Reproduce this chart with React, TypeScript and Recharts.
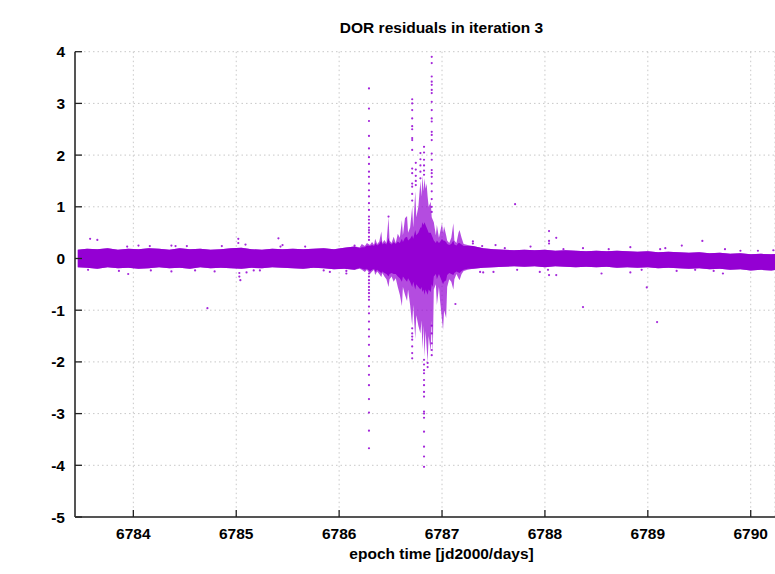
import React from 'react';
import { ComposedChart, Area, Scatter, XAxis, YAxis, CartesianGrid } from 'recharts';

const PURPLE = '#9400d3';
const FONT = '"Liberation Sans", Arial, Helvetica, sans-serif';

const title = 'DOR residuals in iteration 3';
const xTitle = 'epoch time [jd2000/days]';
const xTicks = [6784, 6785, 6786, 6787, 6788, 6789, 6790];
const yTicks = [-5, -4, -3, -2, -1, 0, 1, 2, 3, 4];

// quiet part before the event: day, upper and lower edge of the dense band
const beforeDays = [6783.46, 6783.55, 6783.65, 6783.75, 6783.85, 6783.95, 6784.05, 6784.15, 6784.25, 6784.35, 6784.45, 6784.55, 6784.65, 6784.75, 6784.85, 6784.95, 6785.05, 6785.15, 6785.25, 6785.35, 6785.45, 6785.55, 6785.65, 6785.75, 6785.85, 6785.95, 6786.05, 6786.15];
const beforeHi = [0.17, 0.19, 0.18, 0.2, 0.17, 0.19, 0.18, 0.2, 0.19, 0.17, 0.2, 0.18, 0.19, 0.17, 0.18, 0.2, 0.21, 0.18, 0.17, 0.19, 0.18, 0.19, 0.18, 0.19, 0.2, 0.18, 0.21, 0.23];
const beforeLo = [-0.17, -0.18, -0.2, -0.17, -0.19, -0.18, -0.2, -0.19, -0.17, -0.19, -0.18, -0.2, -0.17, -0.19, -0.18, -0.19, -0.2, -0.18, -0.19, -0.17, -0.18, -0.19, -0.2, -0.18, -0.19, -0.21, -0.2, -0.22];

// the disturbed part: outer spread and the solid core
const eventDays = [6786.2, 6786.22, 6786.25, 6786.27, 6786.3, 6786.32, 6786.34, 6786.35, 6786.37, 6786.39, 6786.41, 6786.42, 6786.44, 6786.46, 6786.48, 6786.49, 6786.51, 6786.53, 6786.55, 6786.57, 6786.59, 6786.61, 6786.62, 6786.64, 6786.66, 6786.67, 6786.69, 6786.71, 6786.72, 6786.74, 6786.75, 6786.77, 6786.79, 6786.8, 6786.81, 6786.82, 6786.83, 6786.84, 6786.85, 6786.86, 6786.87, 6786.89, 6786.9, 6786.91, 6786.92, 6786.94, 6786.95, 6786.97, 6786.98, 6787.0, 6787.01, 6787.02, 6787.04, 6787.05, 6787.07, 6787.09, 6787.11, 6787.12, 6787.14, 6787.16, 6787.17, 6787.19, 6787.21, 6787.25];
const eventHi = [0.22, 0.28, 0.24, 0.3, 0.26, 0.32, 0.26, 0.38, 0.28, 0.33, 0.52, 0.3, 0.36, 0.3, 0.8, 0.35, 0.3, 0.42, 0.3, 0.48, 0.4, 0.74, 0.45, 0.78, 0.82, 0.5, 0.6, 1.0, 0.6, 1.3, 0.8, 1.0, 1.5, 1.2, 1.6, 1.3, 1.55, 1.35, 1.45, 1.2, 1.0, 1.1, 0.8, 0.75, 0.7, 0.45, 0.65, 0.4, 0.5, 0.68, 0.5, 0.62, 0.45, 0.35, 0.3, 0.4, 0.68, 0.35, 0.3, 0.5, 0.55, 0.4, 0.28, 0.26];
const eventLo = [-0.2, -0.22, -0.26, -0.22, -0.3, -0.25, -0.22, -0.32, -0.25, -0.3, -0.36, -0.28, -0.35, -0.4, -0.55, -0.4, -0.35, -0.45, -0.38, -0.55, -0.7, -0.92, -0.55, -0.7, -0.82, -0.6, -0.9, -1.3, -0.9, -1.55, -1.1, -1.3, -1.45, -1.2, -1.75, -1.3, -1.9, -1.4, -1.7, -2.0, -1.5, -1.8, -1.2, -1.85, -0.6, -0.5, -0.9, -0.55, -0.8, -1.2, -1.38, -1.0, -1.15, -0.55, -0.4, -0.45, -0.6, -0.4, -0.3, -0.38, -0.42, -0.3, -0.24, -0.22];
const eventCoreHi = [0.2, 0.22, 0.22, 0.25, 0.24, 0.26, 0.24, 0.3, 0.25, 0.28, 0.35, 0.27, 0.3, 0.27, 0.4, 0.3, 0.27, 0.32, 0.28, 0.33, 0.3, 0.38, 0.32, 0.4, 0.42, 0.35, 0.38, 0.45, 0.38, 0.55, 0.45, 0.5, 0.6, 0.6, 0.7, 0.65, 0.7, 0.65, 0.6, 0.55, 0.5, 0.5, 0.45, 0.4, 0.35, 0.3, 0.35, 0.3, 0.32, 0.38, 0.35, 0.35, 0.32, 0.28, 0.26, 0.28, 0.35, 0.27, 0.25, 0.3, 0.3, 0.27, 0.24, 0.24];
const eventCoreLo = [-0.18, -0.2, -0.22, -0.2, -0.25, -0.22, -0.2, -0.26, -0.22, -0.25, -0.28, -0.25, -0.28, -0.3, -0.35, -0.3, -0.28, -0.3, -0.3, -0.35, -0.38, -0.45, -0.35, -0.4, -0.45, -0.38, -0.45, -0.55, -0.45, -0.6, -0.5, -0.55, -0.6, -0.55, -0.65, -0.6, -0.7, -0.6, -0.65, -0.7, -0.6, -0.65, -0.5, -0.55, -0.35, -0.3, -0.4, -0.3, -0.35, -0.45, -0.5, -0.45, -0.42, -0.32, -0.28, -0.3, -0.32, -0.28, -0.25, -0.27, -0.28, -0.24, -0.22, -0.2];

// quiet part after the event
const afterDays = [6787.3, 6787.4, 6787.5, 6787.6, 6787.7, 6787.8, 6787.9, 6788.0, 6788.1, 6788.2, 6788.3, 6788.4, 6788.5, 6788.6, 6788.7, 6788.8, 6788.9, 6789.0, 6789.1, 6789.2, 6789.3, 6789.4, 6789.5, 6789.6, 6789.7, 6789.8, 6789.9, 6790.0, 6790.1, 6790.2, 6790.24];
const afterHi = [0.24, 0.2, 0.18, 0.17, 0.16, 0.17, 0.16, 0.17, 0.15, 0.16, 0.15, 0.14, 0.15, 0.14, 0.15, 0.14, 0.13, 0.14, 0.12, 0.13, 0.12, 0.11, 0.12, 0.1, 0.11, 0.09, 0.1, 0.08, 0.09, 0.08, 0.09];
const afterLo = [-0.2, -0.18, -0.17, -0.16, -0.15, -0.16, -0.15, -0.17, -0.15, -0.16, -0.17, -0.16, -0.17, -0.16, -0.18, -0.17, -0.18, -0.17, -0.19, -0.18, -0.19, -0.2, -0.19, -0.21, -0.2, -0.22, -0.21, -0.23, -0.22, -0.23, -0.22];

// vertical streaks of single residuals
const streakADay = 6786.29;
const streakA = [3.29, 2.9, 2.66, 2.37, 2.13, 1.96, 1.83, 1.68, 1.58, 1.45, 1.32, 1.2, 1.07, 0.94, 0.81, 0.75, 0.68, 0.6, 0.55, 0.5, 0.42, 0.36, -0.29, -0.35, -0.42, -0.48, -0.55, -0.61, -0.67, -0.74, -0.8, -0.93, -1.06, -1.22, -1.37, -1.51, -1.67, -1.89, -2.08, -2.25, -2.45, -2.72, -2.98, -3.33, -3.67];
const streakBDay = 6786.71;
const streakB = [3.08, 3.0, 2.87, 2.71, 2.56, 2.5, 2.33, 2.29, 2.1, 1.74, 1.65, 1.45, 1.39, 1.25, 1.12, -1.35, -1.45, -1.51, -1.57, -1.7, -1.83, -1.93];
const streakCDay = 6786.825;
const streakC = [2.16, 2.05, 1.91, 1.8, 1.7, 1.62, -1.96, -2.05, -2.16, -2.22, -2.35, -2.45, -2.58, -2.67, -2.96, -3.0, -3.08, -3.35, -3.64, -3.83, -4.03];
const streakDDay = 6786.9;
const streakD = [3.9, 3.78, 3.52, 3.42, 3.36, 3.26, 3.2, 3.03, 2.87, 2.71, 2.65, 2.45, 2.39, 2.29, 2.03, 1.91, 1.71, 1.65, 1.58, 1.45, 1.3, 1.15, 1.0, 0.9, -1.3, -1.45, -1.64, -1.77, -1.87];
const streakEDay = 6786.745;
const streakE = [1.85, 1.72, 1.6, 1.5, 1.42];
const streakFDay = 6786.79;
const streakF = [2.04, 1.92, 1.8, 1.68, 1.55];

// loose residuals just outside the band: [day, residual]
const specks: [number, number][] = [
  [6783.58, 0.38], [6783.65, 0.36], [6783.56, -0.22], [6783.86, -0.24], [6783.95, -0.3], [6783.94, 0.23],
  [6784.05, 0.25], [6784.16, 0.24], [6784.17, -0.23], [6784.37, 0.25], [6784.41, 0.24], [6784.37, -0.25],
  [6784.52, 0.24], [6784.6, -0.23], [6784.79, -0.25], [6784.86, 0.24], [6785.02, 0.38], [6785.02, 0.3],
  [6785.03, -0.28], [6785.03, -0.35], [6785.04, -0.42], [6785.09, 0.27], [6785.1, -0.27], [6785.17, -0.23],
  [6785.23, -0.23], [6785.41, 0.39], [6785.45, 0.26], [6785.43, 0.23], [6785.67, 0.23], [6785.85, -0.23],
  [6785.91, -0.26], [6786.07, -0.29], [6786.07, -0.24], [6786.15, 0.25], [6786.48, 0.81], [6786.86, -2.02],
  [6786.86, -2.1], [6787.3, 0.29], [6787.3, 0.33], [6787.39, 0.24], [6787.52, 0.26], [6787.61, 0.2],
  [6787.37, -0.26], [6787.4, -0.27], [6787.5, -0.26], [6787.73, -0.22], [6787.86, 0.23], [6787.95, -0.26],
  [6788.03, -0.22], [6788.04, 0.53], [6788.04, 0.34], [6788.04, 0.29], [6788.11, 0.4], [6788.04, -0.32],
  [6788.11, -0.32], [6788.18, 0.18], [6788.37, 0.2], [6788.55, -0.29], [6788.62, 0.18], [6788.83, 0.22],
  [6788.83, -0.27], [6788.94, -0.22], [6789.12, 0.18], [6789.17, 0.2], [6789.28, -0.24], [6789.33, 0.25],
  [6789.46, -0.22], [6789.53, 0.34], [6789.64, -0.24], [6789.73, -0.29], [6789.75, 0.18], [6789.9, 0.15],
  [6790.07, 0.15], [6790.22, 0.16],
];

// isolated residuals far from the band
const outliers: [number, number][] = [
  [6784.72, -0.96], [6787.71, 1.05], [6787.13, -0.88], [6788.37, -0.94], [6788.99, -0.56], [6789.09, -1.23],
];

const bandRows = [
  ...beforeDays.map((x, i) => ({ x, env: [beforeLo[i], beforeHi[i]], core: [beforeLo[i], beforeHi[i]] })),
  ...eventDays.map((x, i) => ({ x, env: [eventLo[i], eventHi[i]], core: [eventCoreLo[i], eventCoreHi[i]] })),
  ...afterDays.map((x, i) => ({ x, env: [afterLo[i], afterHi[i]], core: [afterLo[i], afterHi[i]] })),
];

const streak = (day: number, values: number[]) => values.map((y) => ({ x: day, y }));
const points = [
  ...streak(streakADay, streakA),
  ...streak(streakBDay, streakB),
  ...streak(streakCDay, streakC),
  ...streak(streakDDay, streakD),
  ...streak(streakEDay, streakE),
  ...streak(streakFDay, streakF),
  ...specks.map(([x, y]) => ({ x, y })),
  ...outliers.map(([x, y]) => ({ x, y })),
];

const Dot = (p: any) => <circle cx={p.cx} cy={p.cy} r={1.1} fill={PURPLE} fillOpacity={0.85} />;

const BottomTick = (p: any) => (
  <g>
    <line x1={p.x} x2={p.x} y1={p.y} y2={p.y - 7} stroke="#222" strokeWidth={1.3} />
    <text x={p.x} y={p.y + 22} textAnchor="middle" fontFamily={FONT} fontWeight="bold" fontSize={15.5} fill="#000">
      {p.payload.value}
    </text>
  </g>
);

const TopTick = (p: any) => (
  <line x1={p.x} x2={p.x} y1={p.y} y2={p.y + 7} stroke="#222" strokeWidth={1.3} />
);

const LeftTick = (p: any) => (
  <g>
    <line x1={p.x + 10} x2={p.x + 17} y1={p.y} y2={p.y} stroke="#222" strokeWidth={1.3} />
    <text x={p.x} y={p.y + 5.5} textAnchor="end" fontFamily={FONT} fontWeight="bold" fontSize={15.5} fill="#000">
      {p.payload.value}
    </text>
  </g>
);

const border = { stroke: '#555', strokeWidth: 2 };

export default function App() {
  return (
    <div style={{ position: 'absolute', left: 0, top: 0, width: 775, height: 574, background: '#fff' }}>
      <ComposedChart
        width={775}
        height={574}
        data={bandRows}
        margin={{ top: 51.7, right: 0, bottom: 0, left: 0 }}
      >
        <CartesianGrid stroke="#c8c8c8" strokeDasharray="1.5 3" />
        <XAxis
          type="number"
          dataKey="x"
          domain={[6783.433, 6790.236]}
          allowDataOverflow
          ticks={xTicks}
          height={57}
          tickSize={0}
          tickMargin={0}
          tick={BottomTick}
          axisLine={border}
        />
        <XAxis
          xAxisId="top"
          orientation="top"
          type="number"
          dataKey="x"
          domain={[6783.433, 6790.236]}
          allowDataOverflow
          ticks={xTicks}
          height={0}
          tickSize={0}
          tickMargin={0}
          tick={TopTick}
          axisLine={border}
        />
        <YAxis
          type="number"
          dataKey="y"
          domain={[-5, 4]}
          allowDataOverflow
          ticks={yTicks}
          width={75}
          tickSize={0}
          tickMargin={10}
          tick={LeftTick}
          axisLine={border}
        />
        <Area
          dataKey="env"
          type="linear"
          stroke="none"
          fill={PURPLE}
          fillOpacity={0.7}
          dot={false}
          activeDot={false}
          isAnimationActive={false}
        />
        <Area
          dataKey="core"
          type="linear"
          stroke="none"
          fill={PURPLE}
          fillOpacity={1}
          dot={false}
          activeDot={false}
          isAnimationActive={false}
        />
        <Scatter data={points} shape={Dot} isAnimationActive={false} />
      </ComposedChart>
      <svg width={775} height={574} style={{ position: 'absolute', left: 0, top: 0, pointerEvents: 'none' }}>
        <text x={441.5} y={33} textAnchor="middle" fontFamily={FONT} fontWeight="bold" fontSize={15.5} fill="#000">
          {title}
        </text>
        <text x={441.5} y={559} textAnchor="middle" fontFamily={FONT} fontWeight="bold" fontSize={15.5} fill="#000">
          {xTitle}
        </text>
      </svg>
    </div>
  );
}
